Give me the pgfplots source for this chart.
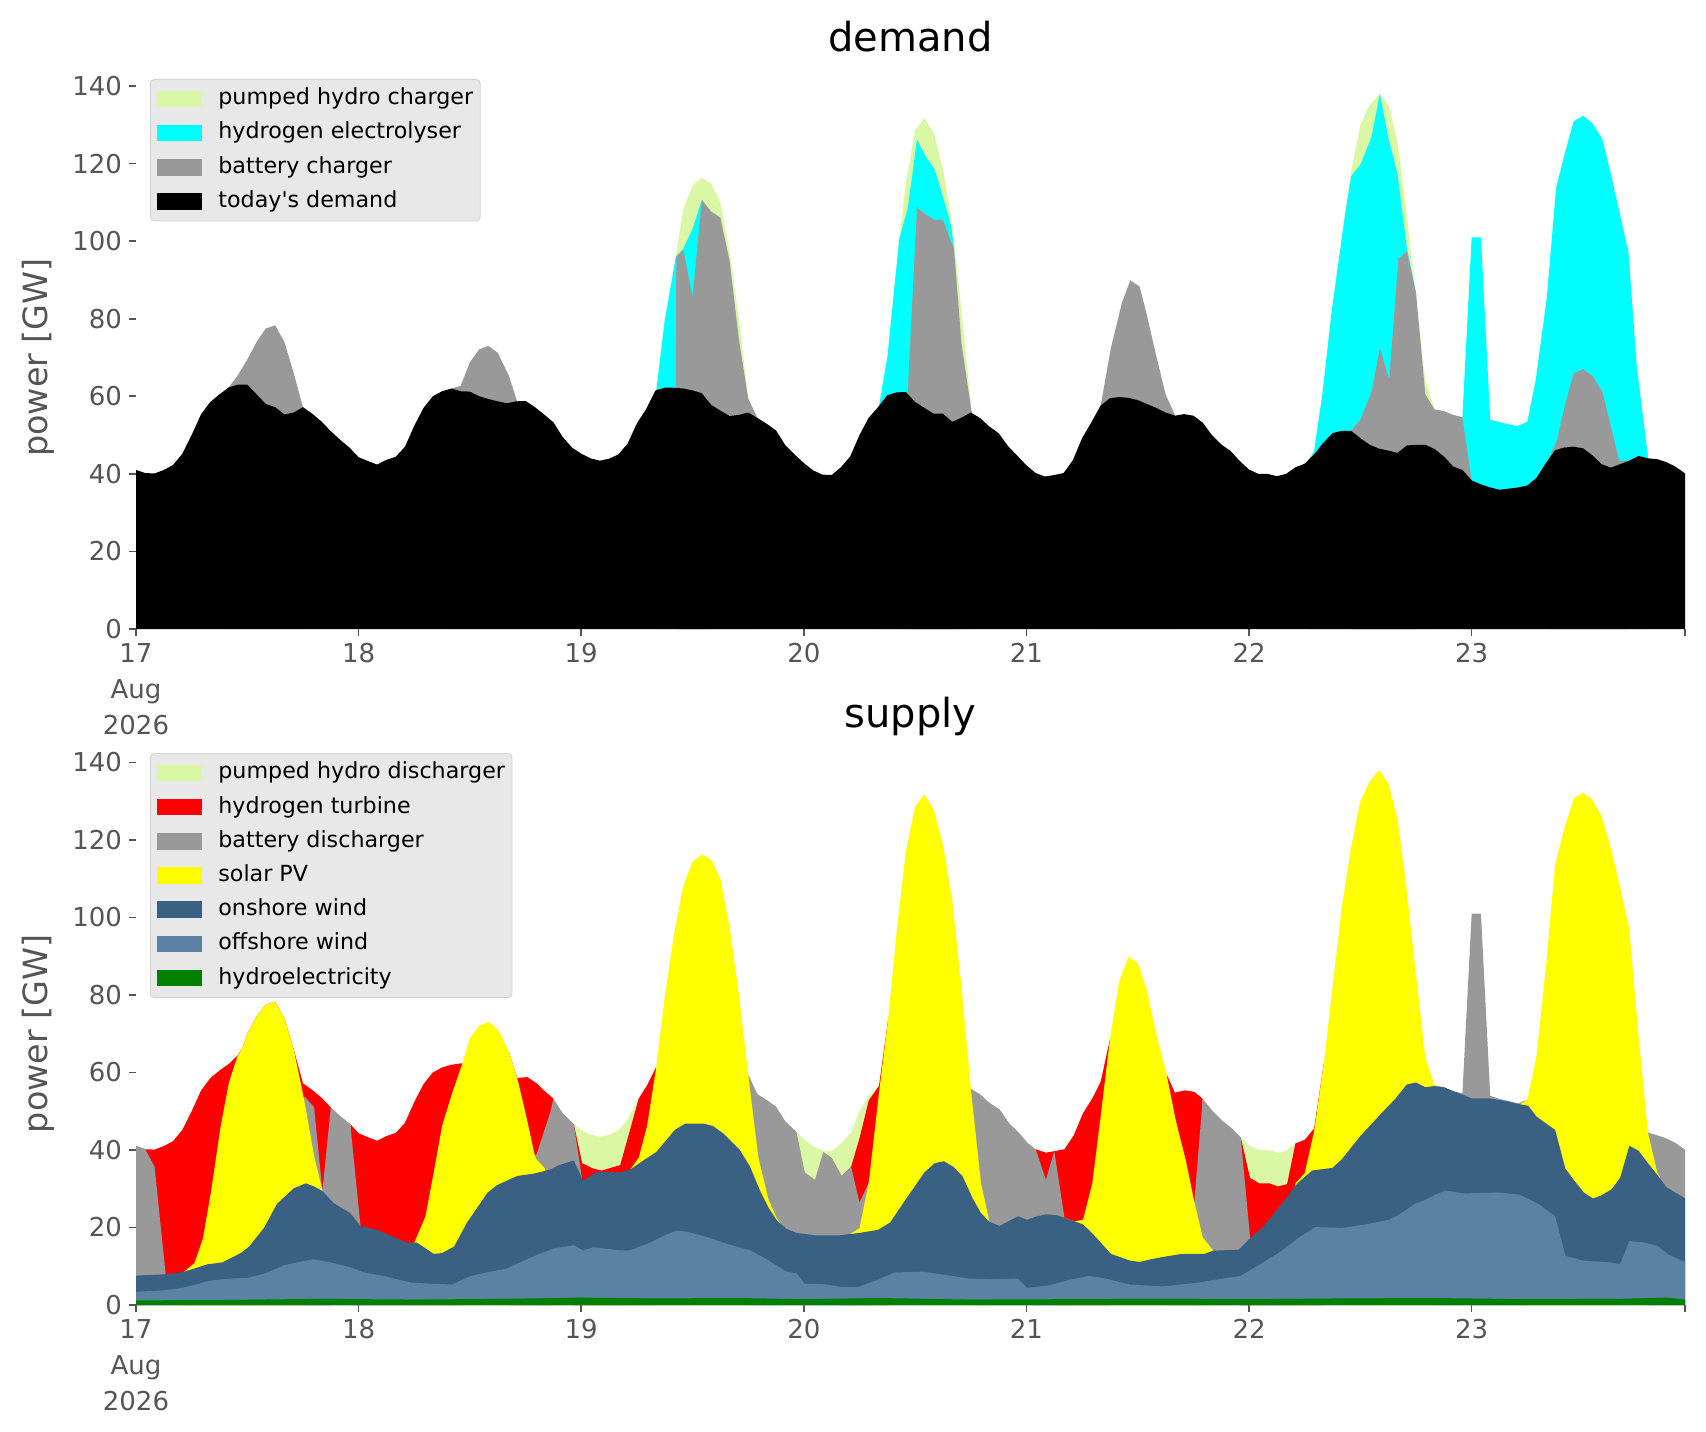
\documentclass[border=0pt]{standalone}
\usepackage{fontspec}
\setmainfont{DejaVu Sans}
\usepackage{pgfplots}
\pgfplotsset{compat=1.18}
\definecolor{phc}{HTML}{DAF7A6}
\definecolor{h2c}{HTML}{00FFFF}
\definecolor{batc}{HTML}{999999}
\definecolor{redc}{HTML}{FF0000}
\definecolor{solc}{HTML}{FFFF00}
\definecolor{onc}{HTML}{3A6183}
\definecolor{offc}{HTML}{5B81A3}
\definecolor{hydc}{HTML}{008000}
\definecolor{tickgray}{HTML}{555555}
\definecolor{legbg}{HTML}{E8E8E8}
\definecolor{legedge}{HTML}{D2D2D2}
\pgfplotsset{
  panel/.style={
    scale only axis, width=774.5pt, height=271.5pt,
    xmin=0, xmax=167, ymin=0, ymax=140,
    axis line style={draw=none},
    tick align=outside, xtick pos=bottom, ytick pos=left,
    major tick length=3.5pt,
    tick style={color=tickgray, line width=0.8pt},
    xtick={0,24,48,72,96,120,144,167},
    xticklabels={{17\\Aug\\2026},18,19,20,21,22,23,{}},
    xticklabel style={align=center, font=\fontsize{13}{18}\selectfont, text=tickgray},
    ytick={0,20,40,60,80,100,120,140},
    yticklabel style={font=\fontsize{13}{15}\selectfont, text=tickgray},
    /pgf/number format/assume math mode=true,
    ylabel={power [GW]},
    ylabel style={font=\fontsize{16.7}{20}\selectfont, text=tickgray, at={(axis description cs:-0.0633,0.5)}, anchor=center},
    title style={font=\fontsize{20}{24}\selectfont, at={(0.5,1)}, anchor=base, yshift=11.3pt},
    legend cell align=left,
    legend image code/.code={\fill[##1, draw=none, sharp corners] (0pt,-4.15pt) rectangle (22.5pt,4.15pt);},
    legend style={anchor=north west, fill=legbg, draw=legedge, rounded corners=2pt,
      font=\fontsize{11.1}{13}\selectfont, inner xsep=3.5pt, inner ysep=4.5pt,
      row sep=6.6pt, column sep=8pt,
      nodes={inner sep=0pt, text height=8.2pt, text depth=2.3pt}},
  },
  lay/.style={draw=none, fill=#1, forget plot},
}
\begin{document}
\begin{tikzpicture}[x=1pt,y=1pt]
\useasboundingbox (0,0) rectangle (853,715.5);
% ---------------- demand ----------------
\begin{axis}[panel, at={(68pt,401pt)}, anchor=south west, title={demand},
  legend style={at={(axis description cs:0.00904,1.0129)}}]
% pumped hydro charger (top of stack)
\addplot[lay=phc] coordinates {(58.2,96) (59,108.1) (60,114.3) (61,116.3) (62,114.9) (63,110) (64,97.3) (65,80) (66,59.5) (67,54.4)} \closedcycle;
\addplot[lay=phc] coordinates {(81.7,86.6) (82.3,100.7) (83,115) (84,128.6) (85,131.7) (86,127.9) (87,118.7) (88,104.5) (89,81.8) (90.1,55.8)} \closedcycle;
\addplot[lay=phc] coordinates {(130.3,106.1) (131,118) (132,130) (133,135) (134.1,138) (135.1,134.7) (136,125.6) (137,107) (138,85) (139,64) (140,56.6)} \closedcycle;
% hydrogen electrolyser
\addplot[lay=h2c] coordinates {(56.1,61.7) (57,79.5) (58.2,96) (59,98) (60,103.1) (61,110.6) (62,107.6)} \closedcycle;
\addplot[lay=h2c] coordinates {(80.1,57.5) (81,70) (81.7,86.6) (82.3,100.7) (83.2,108.4) (84.2,126.2) (85.1,122) (86.1,118.5) (87,111.4) (87.9,103.7) (88.2,97.8)} \closedcycle;
\addplot[lay=h2c] coordinates {(126.2,42.6) (127,45.8) (127.9,60.5) (128.9,81.8) (130.3,106.1) (131,116.7) (132,119.7) (133.2,126.8) (134.1,138) (135,126.8) (136,117.3) (137,98.4) (138,86.6)} \closedcycle;
\addplot[lay=h2c] coordinates {(143,54.6) (144,101) (145,101) (146,54) (147.2,53.2) (148.9,52.3) (150,53.4) (150.9,64.1) (152.1,85.4) (153.1,113.7) (154.1,123.2) (155,130.9) (156,132.3) (157,130.5) (158.1,126.2) (159,117.3) (159.9,107.8) (160.9,97.2) (161.8,67.6) (163,44.6)} \closedcycle;
% battery charger
\addplot[lay=batc] coordinates {(10,62.3) (11,65.5) (12,69.5) (13,74) (14,77.5) (15,78.3) (16,74) (17,66) (18,57.2)} \closedcycle;
\addplot[lay=batc] coordinates {(34,62) (35,62.7) (36,68.8) (37,72.1) (38,73) (39,71.2) (40.2,65.3) (41.1,58.6)} \closedcycle;
\addplot[lay=batc] coordinates {(58.2,62.2) (58.25,96) (59,97.8) (60,85.6) (61,110.6) (62,107.6) (63,106.1) (64,94.8) (65,74.7) (66,59.4) (67,54.4)} \closedcycle;
\addplot[lay=batc] coordinates {(83.2,61.1) (84.2,108.8) (85.1,106.9) (86.1,105.5) (87,105.5) (88.2,97.8) (89,73.5) (90.1,55.8)} \closedcycle;
\addplot[lay=batc] coordinates {(104,57.6) (105.1,72.4) (106.3,84.2) (107.2,89.9) (108.2,88.3) (108.9,81.8) (109.8,72.4) (111,60.5) (112,55.2)} \closedcycle;
\addplot[lay=batc] coordinates {(131,51.1) (132,54) (133.2,61.1) (134.1,72.4) (135.1,64.3) (136.1,95.4) (137,97.4) (138,86.6) (139,60.5) (140,56.6) (141,56.2) (142,55.2) (143,54.6) (144,38.3)} \closedcycle;
\addplot[lay=batc] coordinates {(152.3,43.8) (153.2,48.7) (154.1,58.2) (155,65.9) (156,67) (157,65.3) (158.1,61.1) (159,52.3) (159.9,43.4) (161,43.4)} \closedcycle;
% today's demand
\addplot[lay=black] coordinates {(0,41.0) (1,40.2) (2,40.1) (3,41.0) (4,42.3) (5,45.2) (6,50.0) (7,55.3) (8,58.5) (9,60.5) (10,62.3) (11,63.0) (12,63.0) (13,60.5) (14,58.0) (15,57.2) (16,55.3) (17,55.8) (18,57.2) (19,55.5) (20,53.5) (21,51.0) (22,48.8) (23,46.8) (24,44.3) (25,43.3) (26,42.4) (27,43.6) (28,44.4) (29,47.0) (30,52.4) (31,57.0) (32,60.0) (33,61.3) (34,62.0) (35,61.3) (36,61.2) (37,60.0) (38,59.3) (39,58.7) (40,58.2) (41,58.7) (42,58.8) (43,57.2) (44,55.3) (45,53.3) (46,49.5) (47,46.8) (48,45.2) (49,44.0) (50,43.4) (51,43.9) (52,45.0) (53,47.8) (54,53.0) (55,56.7) (56,61.5) (57,62.2) (58,62.2) (59,62.0) (60,61.5) (61,60.8) (62,57.8) (63,56.3) (64,54.9) (65,55.2) (66,55.8) (67,54.4) (68,52.9) (69,51.2) (70,47.4) (71,45.0) (72,42.8) (73,40.9) (74,39.8) (75,39.7) (76,41.7) (77,44.5) (78,50.0) (79,54.5) (80,57.2) (81,60.3) (82,61.0) (83,61.1) (84,58.5) (85,57.0) (86,55.5) (87,55.5) (88,53.4) (89,54.5) (90,55.8) (91,54.4) (92,52.2) (93,50.5) (94,47.2) (95,44.7) (96,42.2) (97,40.2) (98,39.3) (99,39.7) (100,40.2) (101,43.5) (102,49.2) (103,53.3) (104,57.6) (105,59.5) (106,59.8) (107,59.6) (108,59.0) (109,58.0) (110,57.0) (111,55.8) (112,55.0) (113,55.4) (114,55.0) (115,53.2) (116,50.0) (117,47.6) (118,45.9) (119,43.3) (120,41.1) (121,40.0) (122,40.0) (123,39.4) (124,40.0) (125,41.7) (126,42.6) (127,45.0) (128,48.0) (129,50.5) (130,51.1) (131,51.1) (132,49.2) (133,47.5) (134,46.5) (135,46.0) (136,45.4) (137,47.3) (138,47.5) (139,47.5) (140,46.4) (141,44.5) (142,41.9) (143,41.0) (144,38.3) (145,37.3) (146,36.5) (147,35.9) (148,36.2) (149,36.5) (150,37.0) (151,39.0) (152,42.8) (153,46.1) (154,46.8) (155,47.0) (156,46.6) (157,44.8) (158,42.5) (159,41.6) (160,42.5) (161,43.4) (162,44.6) (163,44.0) (164,43.8) (165,43.0) (166,41.8) (167,40.1)} \closedcycle;
\addlegendimage{fill=phc}\addlegendentry{pumped hydro charger}
\addlegendimage{fill=h2c}\addlegendentry{hydrogen electrolyser}
\addlegendimage{fill=batc}\addlegendentry{battery charger}
\addlegendimage{fill=black}\addlegendentry{today\textquotesingle s demand}
\end{axis}
% ---------------- supply ----------------
\begin{axis}[panel, at={(68pt,63pt)}, anchor=south west, height=271.25pt, title={supply},
  legend style={at={(axis description cs:0.00904,1.0175)}}]
% pumped hydro discharger
\addplot[lay=phc] coordinates {(47.2,46.7) (48,45.2) (49,44) (50,43.4) (51,43.9) (52,45) (53,47.8) (54.2,53.3)} \closedcycle;
\addplot[lay=phc] coordinates {(71.2,44.7) (72.1,42.6) (73,40.9) (74.1,39.8) (75,39.7) (76.1,41.9) (77.1,44.5) (78,50) (79,54) (80.1,56.5)} \closedcycle;
\addplot[lay=phc] coordinates {(119.1,43.3) (120.1,41.1) (121.1,40) (122.2,40) (123.2,39.2) (124.1,40) (125,41.7)} \closedcycle;
% hydrogen turbine
\addplot[lay=redc] coordinates {(0,41) (1,40.2) (2,40.1) (3,41) (4,42.3) (5,45.2) (6,50) (7,55.3) (8,58.5) (9,60.5) (10,62.2) (11,64.5) (11.5,66.5) (12,70) (13,74.5) (14,77.5) (15,78.3) (16,74) (17,66) (18,57.2) (19,55.5) (20,53.5) (21,51)} \closedcycle;
\addplot[lay=redc] coordinates {(23.1,46.7) (24,44.3) (25,43.3) (26,42.4) (27,43.6) (28,44.4) (29,47) (30,52.4) (31,57) (32,60) (33,61.3) (34,62) (35.2,62.4)} \closedcycle;
\addplot[lay=redc] coordinates {(40.2,65.3) (41.1,58.6) (42.2,58.8) (43.2,57.2) (44,55.3) (45,53.3)} \closedcycle;
\addplot[lay=redc] coordinates {(47.2,46.7) (48.1,36.6) (49.3,35.2) (50.2,34.7) (52.2,36.1) (53.3,45.5) (54.2,53.3) (55.1,56.7) (56.1,61.5)} \closedcycle;
\addplot[lay=redc] coordinates {(76.1,33.3) (77.1,35.7) (78,43) (79,52.8) (80.1,56.5) (81.1,74)} \closedcycle;
\addplot[lay=redc] coordinates {(97,40.2) (98.1,39.3) (99,39.7) (100.1,40.2) (101.1,43.8) (102.1,49.5) (103.1,53.3) (104,57.6) (105,68.6)} \closedcycle;
\addplot[lay=redc] coordinates {(111.1,59.6) (112,54.8) (113.1,55.4) (114.1,55) (115,53.2)} \closedcycle;
\addplot[lay=redc] coordinates {(119.1,43.3) (120.1,32.8) (121.1,31.4) (122.2,31.4) (123.1,30.6) (124.1,31.2) (125,41.7) (126,42.6) (127,45.5) (128.1,62.9)} \closedcycle;
% battery discharger
\addplot[lay=batc] coordinates {(0,41) (1,40.2) (2,35.7) (3.2,7.9)} \closedcycle;
\addplot[lay=batc] coordinates {(18.1,53.3) (18.2,53.8) (19.2,51) (20.1,29.4) (21,51) (22,48.8) (23.1,46.7) (24.2,20.4)} \closedcycle;
\addplot[lay=batc] coordinates {(43,38.5) (43.2,39) (44.7,50) (45,53.3) (46,49.5) (47.2,46.7) (48.1,32.3)} \closedcycle;
\addplot[lay=batc] coordinates {(66,59.5) (67,54.4) (68,52.9) (69,51.2) (70,47.4) (71.2,44.7) (72.1,34.2) (73.2,32.3) (74.1,39.5) (75,38) (76.1,33.3) (77.1,35.7) (78,26.4) (79,31.6)} \closedcycle;
\addplot[lay=batc] coordinates {(90,55.8) (91,54.4) (92,52.2) (93.1,50.5) (94.2,46.7) (95.1,44.7) (96.1,41.9) (97,40.2) (98.1,32.3) (99,39.7) (100.1,22.5)} \closedcycle;
\addplot[lay=batc] coordinates {(114.1,26.6) (115,53.2) (116.1,50) (117.1,47.6) (118,45.9) (119.1,43.3) (120.1,17.5)} \closedcycle;
\addplot[lay=batc] coordinates {(140,56.6) (141,56.2) (142,55.2) (143,54.6) (144,101) (145,101) (146,54) (147,53.2) (148,52.6) (149,52) (150,53)} \closedcycle;
\addplot[lay=batc] coordinates {(163,44.5) (164,43.8) (165,43) (166,41.8) (167,40.1)} \closedcycle;
% solar PV
\addplot[lay=solc] coordinates {(5.2,8.6) (6.3,10.8) (7.2,17) (8.1,29.4) (9.1,45.7) (10,57.2) (10.9,63.9) (11.5,66.5) (12,70) (13,74.5) (14,77.5) (15,78.3) (16,74) (17,66) (18.1,53.3) (19.2,38.5) (20.1,29.4)} \closedcycle;
\addplot[lay=solc] coordinates {(30,16.1) (31.2,22.8) (32.1,34.2) (33,46.2) (34.1,54.8) (35.2,62.4) (36,68.8) (37,72.1) (38,73) (39,71.2) (40.2,65.3) (41.1,58.6) (42,49.5) (43,38.5) (43.2,37.5) (44.1,35.2)} \closedcycle;
\addplot[lay=solc] coordinates {(53.3,35) (54.2,38) (55.1,46.2) (56.1,61.5) (57,79.5) (58,95.5) (59,108.1) (60,114.3) (61,116.3) (62,114.9) (63,110) (64,97.3) (65,80) (66,59.5) (67.1,38) (68.2,27.1) (69.1,22.3) (69.5,21)} \closedcycle;
\addplot[lay=solc] coordinates {(77.1,18.5) (78,19.8) (79,31.6) (80.1,54.7) (81.1,74) (82,96) (83,117) (84,128.6) (85,131.7) (86,127.9) (87,118.7) (88,104.5) (89,81.8) (90,55.8) (91.1,31.4) (92,21.5)} \closedcycle;
\addplot[lay=solc] coordinates {(100.1,22.5) (101.2,21.6) (102.1,22) (103.1,31.4) (104,48.6) (105,68.6) (106,83.5) (107,89.8) (108,88.3) (109,81) (110,69.8) (111.1,59.6) (112.1,47.6) (113.2,37.1) (114.1,26.6) (115,17.5) (116.1,14.1)} \closedcycle;
\addplot[lay=solc] coordinates {(125,31.4) (126,34) (127,44.7) (128.1,62.9) (129,82) (130,102.6) (131,118) (132,130) (133,135) (134,138) (135,134.7) (136,125.6) (137,107) (138,85) (139,64) (140,56.6) (140.5,56.4)} \closedcycle;
\addplot[lay=solc] coordinates {(149,51.5) (150,53) (151,64.3) (152,87) (153,113.7) (154,123) (155,130.7) (156,132.2) (157,130.4) (158,126.1) (159,118) (160,107.8) (161,96.8) (162,69) (163,44.5) (164,34.2) (164.3,33)} \closedcycle;
% onshore wind
\addplot[lay=onc] coordinates {(0,7.6) (3,7.9) (5.2,8.6) (7.7,10.5) (9.3,11.0) (11.3,13.4) (12.2,15.1) (13.8,19.9) (15.2,26.1) (17,30.1) (18.3,31.4) (19.2,30.6) (20.1,29.4) (21.3,26.3) (23.1,23.7) (24.2,20.4) (26,19.4) (27.8,17.5) (29.2,16.1) (30.3,16.1) (32.1,13.2) (33,13.4) (34.3,15.1) (35.7,21.3) (37.9,29.0) (38.9,30.9) (41.1,33.3) (42.9,33.9) (44.7,35.0) (45.6,36.1) (47.2,37.3) (48.2,32.1) (49.7,34.4) (52.2,34.2) (53.3,35.0) (54.7,37.3) (56.1,39.5) (58.1,45.2) (59.2,46.8) (61.2,46.8) (62.2,46.2) (63.3,44.3) (65.1,40.0) (66.2,35.7) (67.3,29.4) (68.2,25.1) (69.1,21.8) (70.1,19.7) (71.2,18.6) (73.2,18.0) (75.9,18.0) (78,18.6) (80,19.4) (81.3,21.3) (83,27.3) (85,34.2) (86.1,36.6) (87.1,37.1) (88.1,35.7) (89.1,33.3) (90.2,27.5) (91.1,23.7) (92,21.5) (93.1,20.4) (94.2,21.8) (95.1,22.9) (96.1,22.0) (97,22.8) (98.1,23.4) (99.2,23.2) (100.1,22.5) (101.2,21.6) (102.1,20.8) (103.1,18.5) (104.2,15.6) (105.1,13.2) (107.1,11.5) (108.2,11.1) (109.4,11.8) (110.7,12.4) (112.8,13.2) (115.2,13.2) (116.1,14.0) (118.9,14.3) (120,17.0) (121.4,19.9) (122.9,24.2) (124.3,28.5) (125.2,31.4) (126.8,34.7) (129,35.4) (130,37.6) (132,43.6) (134.2,49.3) (135.8,53.3) (137,56.9) (138,57.4) (139,56.2) (140,56.5) (141,56.2) (142,55.2) (143,54.3) (144,53.3) (146,53.3) (147,52.9) (148,52.5) (149,51.9) (150.1,51.4) (151,48.6) (152.1,46.7) (153,45.2) (154.1,35.2) (155,32.3) (156.1,29.0) (157.1,27.5) (158,28.3) (159.1,29.9) (160,32.8) (161,41.1) (162,39.8) (163,36.6) (164.1,33.3) (165,30.4) (167,27.5)} \closedcycle;
% offshore wind
\addplot[lay=offc] coordinates {(0,3.4) (3,3.8) (5,4.4) (8,6.3) (10,6.8) (12,7.0) (14,8.2) (16,10.3) (19,11.8) (21,11.0) (23,9.8) (24.6,8.4) (26.7,7.5) (29.6,5.8) (31.7,5.5) (34.1,5.3) (36.1,7.5) (38.2,8.6) (40,9.4) (42.5,12.2) (45,14.6) (47.2,15.4) (48.2,14.1) (49.3,14.9) (52.2,14.1) (53.3,14.1) (55.8,16.5) (57.2,18.2) (58.3,19.2) (59.4,18.9) (61.2,17.8) (64,15.6) (66.2,14.1) (68,11.8) (70.1,8.6) (71.2,8.2) (72.1,5.5) (74.1,5.4) (76.2,4.6) (77.8,4.6) (79.8,6.3) (81.8,8.4) (84.8,8.6) (87.7,7.6) (89.9,6.8) (92,6.7) (95.1,6.8) (96.1,4.4) (98.5,5.1) (100.6,6.5) (102.8,7.5) (104.2,7.0) (107.1,5.3) (110.7,4.8) (114.3,5.7) (116.8,6.7) (119.1,7.5) (121.4,10.8) (123.6,14.1) (125.4,17.5) (127.2,20.1) (130,19.9) (132.6,20.8) (135.1,22.0) (136.1,23.2) (137.9,26.1) (139,27.1) (140.1,28.5) (141.2,29.6) (143,28.8) (146.9,29.0) (149.1,28.5) (151.2,26.1) (153,22.9) (154.1,12.7) (155.9,11.5) (158.9,11.0) (160,10.5) (161,16.5) (162.7,16.1) (164,15.3) (165.2,13.0) (167,11.1)} \closedcycle;
% hydroelectricity
\addplot[lay=hydc] coordinates {(0,1.2) (10,1.3) (20,1.6) (30,1.4) (40,1.6) (48,1.9) (56,1.7) (65,1.8) (72,1.5) (80,1.8) (90,1.4) (100,1.5) (110,1.6) (120,1.5) (130,1.7) (140,1.8) (150,1.5) (160,1.6) (165,1.9) (167,1.4)} \closedcycle;
\addlegendimage{fill=phc}\addlegendentry{pumped hydro discharger}
\addlegendimage{fill=redc}\addlegendentry{hydrogen turbine}
\addlegendimage{fill=batc}\addlegendentry{battery discharger}
\addlegendimage{fill=solc}\addlegendentry{solar PV}
\addlegendimage{fill=onc}\addlegendentry{onshore wind}
\addlegendimage{fill=offc}\addlegendentry{offshore wind}
\addlegendimage{fill=hydc}\addlegendentry{hydroelectricity}
\end{axis}
\end{tikzpicture}
\end{document}
